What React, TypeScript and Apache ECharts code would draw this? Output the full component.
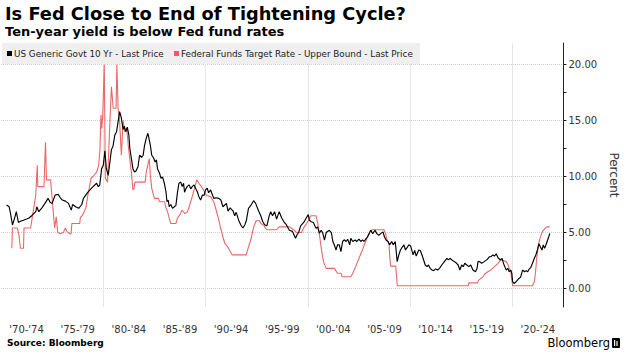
import React, { useEffect, useRef } from "react";
import * as echarts from "echarts";

const periodLabels = ["'70-'74", "'75-'79", "'80-'84", "'85-'89", "'90-'94", "'95-'99", "'00-'04", "'05-'09", "'10-'14", "'15-'19", "'20-'24"];
const yTickValues = [0, 5, 10, 15, 20];
const yMinorTickValues = [2.5, 7.5, 12.5, 17.5];

const yieldData: [number, number][] = [
  [1970.54, 7.45], [1970.8, 7.3], [1970.95, 6.6], [1971.12, 5.67], [1971.3, 6.2], [1971.5, 6.86], [1971.7, 5.9], [1971.9, 6.0],
  [1972.2, 6.1], [1972.5, 6.2], [1972.74, 6.3], [1973.0, 6.5], [1973.4, 6.86], [1973.5, 7.3], [1973.7, 6.86], [1974.0, 7.2],
  [1974.3, 7.6], [1974.6, 8.05], [1974.8, 7.7], [1975.0, 7.6], [1975.3, 8.35], [1975.6, 8.4], [1975.8, 8.1], [1976.0, 7.9],
  [1976.3, 7.8], [1976.6, 7.6], [1976.87, 7.0], [1977.0, 7.5], [1977.3, 7.3], [1977.6, 7.16], [1977.9, 7.5], [1978.06, 8.05],
  [1978.5, 8.6], [1979.0, 9.1], [1979.35, 9.4], [1979.5, 9.1], [1979.65, 9.2], [1979.84, 10.7], [1980.0, 11.0],
  [1980.16, 12.3], [1980.3, 10.7], [1980.48, 10.1], [1980.65, 11.3], [1980.8, 12.4], [1980.95, 12.7], [1981.13, 13.7],
  [1981.3, 14.0], [1981.45, 14.9], [1981.6, 15.8], [1981.75, 15.3], [1981.94, 14.2], [1982.05, 14.5], [1982.2, 14.0],
  [1982.35, 14.4], [1982.5, 13.7], [1982.6, 12.5], [1982.75, 11.6], [1982.9, 10.7], [1983.05, 10.4], [1983.2, 10.5],
  [1983.4, 10.9], [1983.55, 11.9], [1983.75, 11.7], [1983.9, 11.9], [1984.04, 12.8], [1984.2, 13.4], [1984.36, 13.86],
  [1984.45, 13.5], [1984.6, 12.8], [1984.74, 11.9], [1984.9, 11.7], [1985.07, 11.3], [1985.2, 11.5], [1985.3, 10.7],
  [1985.5, 10.3], [1985.65, 9.84], [1985.8, 9.95], [1985.97, 9.4], [1986.13, 8.64], [1986.23, 7.75], [1986.35, 7.9],
  [1986.45, 7.3], [1986.6, 7.5], [1986.78, 7.16], [1986.95, 7.3], [1987.1, 7.4], [1987.26, 8.6], [1987.4, 9.4],
  [1987.58, 9.5], [1987.72, 9.1], [1987.85, 9.4], [1987.95, 8.6], [1988.07, 8.9], [1988.2, 9.1], [1988.4, 9.25],
  [1988.55, 8.9], [1988.7, 9.1], [1988.88, 9.25], [1989.05, 8.9], [1989.2, 8.64], [1989.35, 8.2], [1989.52, 7.9],
  [1989.7, 8.35], [1989.85, 8.3], [1990.0, 8.8], [1990.17, 8.95], [1990.3, 8.55], [1990.5, 8.8], [1990.8, 8.05],
  [1991.0, 8.1], [1991.3, 8.05], [1991.5, 7.9], [1991.7, 7.3], [1992.04, 7.6], [1992.2, 6.9], [1992.4, 7.2],
  [1992.7, 6.9], [1992.85, 6.5], [1993.0, 6.8], [1993.24, 6.1], [1993.45, 5.67], [1993.65, 5.4], [1993.85, 5.7],
  [1994.0, 6.1], [1994.2, 7.16], [1994.45, 7.45], [1994.7, 7.84], [1994.9, 7.6], [1995.2, 6.9], [1995.4, 6.5],
  [1995.6, 5.96], [1995.8, 5.67], [1996.0, 5.6], [1996.2, 6.4], [1996.37, 6.86], [1996.55, 6.5], [1996.75, 6.86],
  [1996.95, 6.2], [1997.2, 6.86], [1997.45, 6.3], [1997.66, 5.96], [1997.9, 5.7], [1998.2, 5.2], [1998.5, 5.1],
  [1998.8, 4.48], [1998.95, 4.8], [1999.1, 5.0], [1999.3, 5.6], [1999.6, 5.9], [1999.85, 6.3], [2000.05, 6.6],
  [2000.15, 6.1], [2000.34, 5.96], [2000.55, 5.9], [2000.8, 5.37], [2000.95, 5.5], [2001.14, 4.93], [2001.3, 5.2],
  [2001.45, 5.0], [2001.63, 4.33], [2001.8, 5.0], [2002.1, 5.2], [2002.3, 5.0], [2002.45, 4.2], [2002.6, 3.88],
  [2002.76, 3.44], [2002.9, 3.9], [2003.08, 3.9], [2003.24, 3.3], [2003.4, 4.2], [2003.56, 4.35], [2003.75, 4.2],
  [2003.9, 4.4], [2004.1, 3.9], [2004.2, 4.48], [2004.4, 4.2], [2004.63, 4.33], [2004.8, 4.2], [2005.0, 4.4],
  [2005.18, 4.2], [2005.35, 4.35], [2005.5, 4.2], [2005.65, 4.4], [2005.83, 4.6], [2006.0, 4.9], [2006.15, 5.2],
  [2006.35, 4.9], [2006.57, 5.2], [2006.75, 4.9], [2006.95, 4.75], [2007.12, 4.9], [2007.35, 5.06], [2007.5, 4.6],
  [2007.67, 4.3], [2007.85, 4.2], [2008.0, 3.9], [2008.2, 4.2], [2008.35, 3.9], [2008.55, 4.2], [2008.74, 2.4],
  [2008.9, 3.0], [2009.06, 3.44], [2009.17, 3.6], [2009.4, 3.9], [2009.55, 3.44], [2009.88, 3.9], [2010.05, 3.8],
  [2010.3, 3.0], [2010.45, 3.4], [2010.6, 2.9], [2010.85, 3.44], [2011.0, 3.4], [2011.2, 2.9], [2011.48, 2.1],
  [2011.65, 1.95], [2011.8, 2.1], [2011.96, 1.8], [2012.15, 1.65], [2012.3, 1.6], [2012.5, 1.75], [2012.7, 1.65],
  [2012.93, 1.87], [2013.1, 2.1], [2013.35, 2.4], [2013.6, 2.7], [2013.75, 2.55], [2013.9, 2.7], [2014.15, 2.5],
  [2014.35, 2.4], [2014.55, 2.25], [2014.7, 2.1], [2014.87, 1.65], [2015.05, 2.1], [2015.2, 1.95], [2015.35, 2.25],
  [2015.55, 2.1], [2015.75, 1.95], [2015.93, 2.1], [2016.15, 1.65], [2016.4, 1.5], [2016.55, 1.8], [2016.64, 2.4],
  [2016.8, 2.4], [2017.0, 2.25], [2017.25, 2.4], [2017.55, 2.6], [2017.77, 2.84], [2017.9, 2.84], [2018.1, 3.0],
  [2018.25, 2.9], [2018.42, 3.1], [2018.6, 2.75], [2018.84, 2.55], [2019.0, 2.7], [2019.15, 2.2], [2019.4, 1.65],
  [2019.55, 1.8], [2019.7, 1.5], [2019.85, 1.65], [2019.95, 1.35], [2020.03, 0.6], [2020.2, 0.45], [2020.35, 0.6],
  [2020.5, 0.75], [2020.65, 0.9], [2020.8, 1.0], [2021.0, 1.65], [2021.2, 1.5], [2021.35, 1.6], [2021.5, 1.5],
  [2021.65, 1.75], [2021.8, 1.87], [2021.97, 2.25], [2022.15, 2.7], [2022.3, 3.0], [2022.45, 3.44], [2022.6, 4.0],
  [2022.75, 3.7], [2022.9, 3.44], [2023.03, 3.9], [2023.15, 3.6], [2023.25, 3.8], [2023.4, 4.2], [2023.55, 4.6],
  [2023.66, 4.93],
];

const fedData: [number, number][] = [
  [1971.05, 3.6], [1971.12, 5.4], [1971.6, 5.4], [1971.75, 4.8], [1971.9, 3.6], [1972.2, 3.6], [1972.25, 5.4],
  [1972.9, 5.4], [1973.1, 6.6], [1973.4, 8.35], [1973.55, 11.0], [1973.6, 9.1], [1974.2, 9.1], [1974.35, 13.05],
  [1974.45, 9.7], [1974.85, 9.7], [1974.95, 8.6], [1975.15, 6.4], [1975.25, 5.4], [1975.4, 6.4], [1975.55, 5.0],
  [1975.8, 4.9], [1976.1, 5.0], [1976.3, 5.4], [1976.45, 5.1], [1976.7, 4.9], [1976.85, 4.9], [1976.93, 5.8],
  [1977.7, 5.8], [1977.75, 6.3], [1978.0, 6.6], [1978.3, 7.2], [1978.5, 8.35], [1978.8, 9.84], [1979.0, 10.0],
  [1979.35, 10.4], [1979.55, 11.0], [1979.68, 12.5], [1979.77, 15.5], [1979.85, 14.3], [1979.95, 15.5], [1980.1, 20.0],
  [1980.2, 9.84], [1980.42, 9.5], [1980.65, 14.9], [1980.8, 18.0], [1980.97, 16.1], [1981.25, 16.1], [1981.33, 20.0],
  [1981.45, 16.1], [1981.6, 14.9], [1981.77, 11.9], [1981.94, 15.0], [1982.1, 14.0], [1982.3, 14.3], [1982.45, 12.7],
  [1982.6, 11.5], [1982.75, 10.4], [1982.9, 8.8], [1983.0, 8.9], [1983.1, 9.5], [1984.1, 9.5], [1984.2, 10.4],
  [1984.35, 11.0], [1984.5, 11.6], [1984.6, 10.1], [1984.75, 8.9], [1985.0, 8.05], [1985.4, 8.05], [1985.5, 7.75],
  [1986.0, 7.75], [1986.1, 7.3], [1986.3, 6.8], [1986.45, 6.27], [1986.6, 5.8], [1987.1, 5.8], [1987.25, 6.27],
  [1987.5, 6.6], [1987.7, 7.0], [1987.97, 6.7], [1988.2, 6.8], [1988.4, 7.3], [1988.65, 8.05], [1988.9, 8.9],
  [1989.15, 9.7], [1989.35, 9.4], [1989.6, 9.1], [1989.8, 8.8], [1990.1, 8.3], [1990.5, 8.2], [1990.8, 7.75],
  [1990.95, 7.3], [1991.3, 6.1], [1991.45, 5.5], [1991.7, 4.6], [1991.9, 4.0], [1992.1, 3.8], [1992.37, 3.4],
  [1992.6, 3.0], [1993.98, 3.0], [1994.1, 3.4], [1994.3, 4.0], [1994.5, 4.6], [1994.6, 5.1], [1994.75, 5.6],
  [1994.95, 6.05], [1995.27, 6.05], [1995.4, 5.8], [1995.66, 5.67], [1995.8, 5.5], [1996.0, 5.25], [1996.95, 5.25],
  [1997.2, 5.5], [1998.24, 5.5], [1998.6, 5.25], [1998.9, 5.0], [1999.4, 5.0], [1999.5, 5.25], [1999.65, 5.5],
  [1999.86, 5.75], [2000.0, 6.0], [2000.3, 6.5], [2000.8, 6.5], [2000.98, 5.8], [2001.14, 4.78], [2001.3, 3.7],
  [2001.45, 2.8], [2001.6, 2.2], [2001.8, 1.8], [2002.6, 1.8], [2002.9, 1.36], [2003.25, 1.36], [2003.35, 1.05],
  [2004.2, 1.05], [2004.4, 1.36], [2004.7, 2.0], [2005.0, 2.7], [2005.34, 3.44], [2005.65, 4.2], [2006.0, 4.93],
  [2006.25, 5.25], [2007.44, 5.25], [2007.6, 4.9], [2007.75, 4.33], [2007.95, 3.9], [2008.0, 3.0], [2008.1, 2.0],
  [2008.6, 2.0], [2008.75, 0.25], [2015.7, 0.25], [2015.75, 0.5], [2016.6, 0.5], [2016.7, 0.75], [2017.1, 1.0],
  [2017.3, 1.3], [2017.6, 1.5], [2017.9, 1.65], [2018.3, 2.0], [2018.6, 2.25], [2018.85, 2.55], [2019.1, 2.5],
  [2019.4, 2.4], [2019.6, 2.1], [2019.7, 1.8], [2019.85, 1.5], [2020.03, 0.25], [2021.97, 0.25], [2022.15, 0.6],
  [2022.25, 1.3], [2022.4, 2.84], [2022.55, 3.9], [2022.7, 4.48], [2022.95, 5.1], [2023.2, 5.37], [2023.35, 5.5],
  [2023.66, 5.5],
];

const seriesNames = ["US Generic Govt 10 Yr - Last Price", "Federal Funds Target Rate - Upper Bound - Last Price"];
const titleText = "Is Fed Close to End of Tightening Cycle?";
const subtitleText = "Ten-year yield is below Fed fund rates";
const sourceText = "Source: Bloomberg";

const FONT = "'DejaVu Sans', Verdana, sans-serif";
const BLACK = "#000000";
const RED = "#e8686a";

export default function App() {
  const ref = useRef<HTMLDivElement>(null);
  useEffect(() => {
    document.body.style.margin = "0";
    const chart = echarts.init(ref.current!, null, { renderer: "svg" });
    const yMin = -1.65;
    const yMax = 21.92;
    chart.setOption({
      animation: false,
      backgroundColor: "#ffffff",
      textStyle: { fontFamily: FONT },
      grid: { left: 1, right: 60, top: 43, bottom: 47 },
      xAxis: [
        {
          type: "value",
          min: 1970,
          max: 2025,
          interval: 10,
          axisLine: { show: false },
          axisTick: { show: false },
          axisLabel: { show: false },
          splitLine: { show: true, showMinLine: false, showMaxLine: false, lineStyle: { color: "#e6e6e6", width: 1 } },
        },
        {
          type: "category",
          data: periodLabels,
          position: "bottom",
          boundaryGap: true,
          axisLine: { show: false },
          axisTick: { show: false },
          splitLine: { show: false },
          axisLabel: { fontSize: 10, color: "#333", margin: 17, fontFamily: FONT },
        },
      ],
      yAxis: [
        {
          type: "value",
          position: "right",
          min: yMin,
          max: yMax,
          axisLine: { show: true, lineStyle: { color: "#222", width: 1 } },
          axisTick: { show: true, length: 3, customValues: yTickValues, lineStyle: { color: "#222" } },
          axisLabel: {
            customValues: yTickValues,
            formatter: (v: number) => v.toFixed(2),
            fontSize: 10,
            color: "#333",
            margin: 5,
            fontFamily: FONT,
          },
          splitLine: { show: true, lineStyle: { color: "#cfcfcf", type: "dotted", width: 1 } },
          name: "Percent",
          nameLocation: "middle",
          nameRotate: -90,
          nameGap: 36,
          nameTextStyle: { fontSize: 12, color: "#333", fontFamily: FONT },
        },
        {
          type: "value",
          position: "right",
          min: yMin,
          max: yMax,
          axisLine: { show: false },
          axisTick: { show: true, length: 3, customValues: yMinorTickValues, lineStyle: { color: "#222" } },
          axisLabel: { show: false, customValues: yMinorTickValues },
          splitLine: { show: false },
        },
      ],
      series: [
        {
          name: seriesNames[1],
          type: "line",
          xAxisIndex: 0,
          yAxisIndex: 0,
          data: fedData,
          showSymbol: false,
          lineStyle: { color: RED, width: 1.1 },
          itemStyle: { color: RED },
          z: 2,
        },
        {
          name: seriesNames[0],
          type: "line",
          xAxisIndex: 0,
          yAxisIndex: 0,
          data: yieldData,
          showSymbol: false,
          lineStyle: { color: BLACK, width: 1.15 },
          itemStyle: { color: BLACK },
          z: 3,
        },
      ],
      graphic: [
        { type: "text", left: 5, top: 4, z: 10, style: { text: titleText, font: `bold 17.8px ${FONT}`, fill: "#000" } },
        { type: "text", left: 5, top: 25, z: 10, style: { text: subtitleText, font: `bold 13px ${FONT}`, fill: "#000" } },
        { type: "rect", shape: { x: 2, y: 43, width: 418, height: 21 }, z: 10, style: { fill: "#efefef" } },
        { type: "rect", shape: { x: 7, y: 51, width: 5, height: 5 }, z: 11, style: { fill: BLACK } },
        { type: "text", x: 14, y: 53.5, z: 11, style: { text: seriesNames[0], font: `8.8px ${FONT}`, fill: "#222", verticalAlign: "middle" } },
        { type: "rect", shape: { x: 174, y: 51, width: 5, height: 5 }, z: 11, style: { fill: "#f05a5a" } },
        { type: "text", x: 181, y: 53.5, z: 11, style: { text: seriesNames[1], font: `8.8px ${FONT}`, fill: "#222", verticalAlign: "middle" } },
        { type: "text", x: 7, y: 343, z: 10, style: { text: sourceText, font: `bold 9px ${FONT}`, fill: "#000", verticalAlign: "middle" } },
        { type: "text", x: 610, y: 343, z: 10, style: { text: "Bloomberg", font: `11.5px ${FONT}`, fill: "#000", align: "right", verticalAlign: "middle" } },
        { type: "rect", shape: { x: 612, y: 338, width: 8, height: 10, r: 1 }, z: 10, style: { fill: "#000" } },
        { type: "rect", shape: { x: 614, y: 340, width: 1.2, height: 6 }, z: 11, style: { fill: "#fff" } },
        { type: "rect", shape: { x: 616.4, y: 341, width: 1.2, height: 5 }, z: 11, style: { fill: "#fff" } },
      ],
    });
    return () => chart.dispose();
  }, []);
  return <div ref={ref} style={{ position: "fixed", left: 0, top: 0, width: 628, height: 354 }} />;
}
